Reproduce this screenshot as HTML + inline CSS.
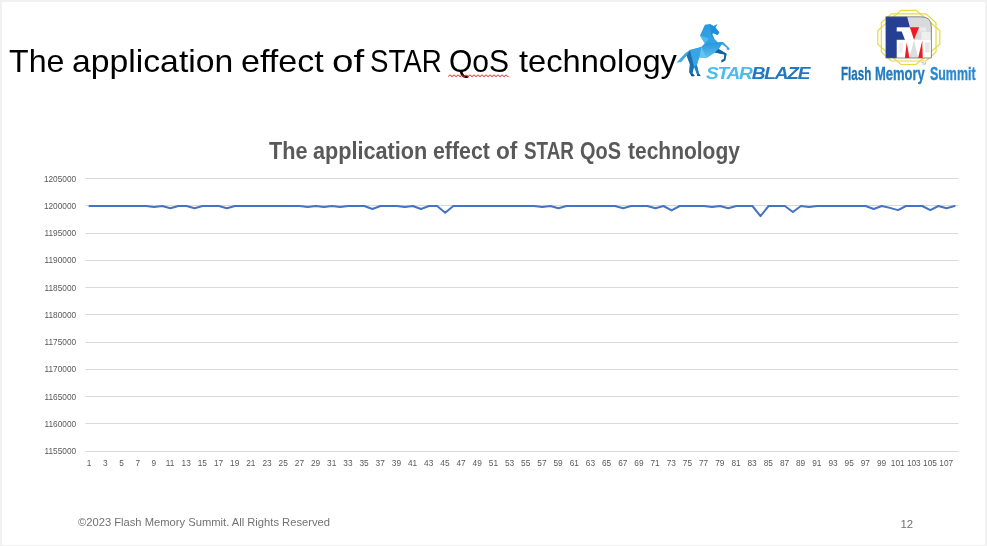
<!DOCTYPE html>
<html>
<head>
<meta charset="utf-8">
<title>The application effect of STAR QoS technology</title>
<style>
html,body{margin:0;padding:0;}
body{width:987px;height:546px;overflow:hidden;background:#f1f1f1;font-family:"Liberation Sans",sans-serif;position:relative;}
#slide{position:absolute;left:2px;top:2px;width:983px;height:543px;background:#fff;}
.abs{position:absolute;white-space:nowrap;}
#title{position:absolute;left:0;top:41px;width:700px;height:40px;font-size:32px;line-height:40px;color:#000;white-space:nowrap;}
#title span{position:absolute;top:0;display:block;transform-origin:0 0;}
#squig{left:448px;top:73px;width:62px;height:6px;}
#ctitle{position:absolute;left:0;top:137.3px;width:800px;height:28px;font-size:23px;line-height:28px;font-weight:bold;color:#595959;white-space:nowrap;}
#ctitle span{position:absolute;top:0;display:block;transform-origin:0 0;}
#footer{left:78px;top:514px;font-size:11.2px;line-height:16px;color:#727272;}
#pageno{left:900.5px;top:516px;font-size:11.4px;line-height:16px;color:#727272;}
#chart{left:0;top:0;width:987px;height:546px;}
#chart text{font-family:"Liberation Sans",sans-serif;font-size:8.3px;fill:#595959;}
#sb{left:706.0px;top:64.9px;font-size:16px;line-height:18px;font-weight:bold;font-style:italic;transform-origin:0 0;transform:scaleX(1.19);letter-spacing:-1.0px;}
#sb .a{color:#4bbcec;}
#sb .b{color:#2277c0;}
#fms{-webkit-text-stroke:0.35px currentColor;position:absolute;left:0;top:63.3px;width:987px;height:22px;font-size:17.7px;line-height:22px;font-weight:bold;color:#2179c0;white-space:nowrap;}
#fms span{position:absolute;top:0;display:block;transform-origin:0 0;}
</style>
</head>
<body>
<div id="slide"></div>
<div id="title"><span style="left:9.1px;transform:scaleX(1.004)">The</span> <span style="left:72.1px;transform:scaleX(1.054)">application</span> <span style="left:240.5px;transform:scaleX(1.064)">effect</span> <span style="left:332.0px;transform:scaleX(1.204)">of</span> <span style="left:369.9px;transform:scaleX(0.865)">STAR</span> <span style="left:449.4px;transform:scaleX(0.938)">QoS</span> <span style="left:518.7px;transform:scaleX(1.020)">technology</span></div>
<svg id="squig" class="abs" viewBox="0 0 62 6"><path d="M0.5,3.5 l1,-1.4 l1,0 l1,1.4 l1,0 l1,-1.4 l1,0 l1,1.4 l1,0 l1,-1.4 l1,0 l1,1.4 l1,0 l1,-1.4 l1,0 l1,1.4 l1,0 l1,-1.4 l1,0 l1,1.4 l1,0 l1,-1.4 l1,0 l1,1.4 l1,0 l1,-1.4 l1,0 l1,1.4 l1,0 l1,-1.4 l1,0 l1,1.4 l1,0 l1,-1.4 l1,0 l1,1.4 l1,0 l1,-1.4 l1,0 l1,1.4 l1,0 l1,-1.4 l1,0 l1,1.4 l1,0 l1,-1.4 l1,0 l1,1.4 l1,0 l1,-1.4 l1,0 l1,1.4 l1,0 l1,-1.4 l1,0 l1,1.4 l1,0 l1,-1.4 l1,0 l1,1.4 l1,0" fill="none" stroke="#ff1a1a" stroke-width="1"/></svg>

<svg id="chart" class="abs" viewBox="0 0 987 546">
<g fill="#d9d9d9">
<rect x="85.4" y="178" width="873.2" height="1"/>
<rect x="85.4" y="205" width="873.2" height="1"/>
<rect x="85.4" y="233" width="873.2" height="1"/>
<rect x="85.4" y="260" width="873.2" height="1"/>
<rect x="85.4" y="287" width="873.2" height="1"/>
<rect x="85.4" y="314" width="873.2" height="1"/>
<rect x="85.4" y="342" width="873.2" height="1"/>
<rect x="85.4" y="369" width="873.2" height="1"/>
<rect x="85.4" y="396" width="873.2" height="1"/>
<rect x="85.4" y="423" width="873.2" height="1"/>
<rect x="85.4" y="451" width="873.2" height="1"/>
</g>
<g>
<text x="76.2" y="181.7" text-anchor="end">1205000</text>
<text x="76.2" y="208.9" text-anchor="end">1200000</text>
<text x="76.2" y="236.2" text-anchor="end">1195000</text>
<text x="76.2" y="263.4" text-anchor="end">1190000</text>
<text x="76.2" y="290.7" text-anchor="end">1185000</text>
<text x="76.2" y="317.9" text-anchor="end">1180000</text>
<text x="76.2" y="345.2" text-anchor="end">1175000</text>
<text x="76.2" y="372.4" text-anchor="end">1170000</text>
<text x="76.2" y="399.7" text-anchor="end">1165000</text>
<text x="76.2" y="426.9" text-anchor="end">1160000</text>
<text x="76.2" y="454.2" text-anchor="end">1155000</text>
</g>
<g>
<text x="89.1" y="466.3" text-anchor="middle">1</text>
<text x="105.3" y="466.3" text-anchor="middle">3</text>
<text x="121.5" y="466.3" text-anchor="middle">5</text>
<text x="137.7" y="466.3" text-anchor="middle">7</text>
<text x="153.8" y="466.3" text-anchor="middle">9</text>
<text x="170.0" y="466.3" text-anchor="middle">11</text>
<text x="186.2" y="466.3" text-anchor="middle">13</text>
<text x="202.3" y="466.3" text-anchor="middle">15</text>
<text x="218.5" y="466.3" text-anchor="middle">17</text>
<text x="234.7" y="466.3" text-anchor="middle">19</text>
<text x="250.8" y="466.3" text-anchor="middle">21</text>
<text x="267.0" y="466.3" text-anchor="middle">23</text>
<text x="283.2" y="466.3" text-anchor="middle">25</text>
<text x="299.4" y="466.3" text-anchor="middle">27</text>
<text x="315.5" y="466.3" text-anchor="middle">29</text>
<text x="331.7" y="466.3" text-anchor="middle">31</text>
<text x="347.9" y="466.3" text-anchor="middle">33</text>
<text x="364.0" y="466.3" text-anchor="middle">35</text>
<text x="380.2" y="466.3" text-anchor="middle">37</text>
<text x="396.4" y="466.3" text-anchor="middle">39</text>
<text x="412.6" y="466.3" text-anchor="middle">41</text>
<text x="428.7" y="466.3" text-anchor="middle">43</text>
<text x="444.9" y="466.3" text-anchor="middle">45</text>
<text x="461.1" y="466.3" text-anchor="middle">47</text>
<text x="477.2" y="466.3" text-anchor="middle">49</text>
<text x="493.4" y="466.3" text-anchor="middle">51</text>
<text x="509.6" y="466.3" text-anchor="middle">53</text>
<text x="525.7" y="466.3" text-anchor="middle">55</text>
<text x="541.9" y="466.3" text-anchor="middle">57</text>
<text x="558.1" y="466.3" text-anchor="middle">59</text>
<text x="574.3" y="466.3" text-anchor="middle">61</text>
<text x="590.4" y="466.3" text-anchor="middle">63</text>
<text x="606.6" y="466.3" text-anchor="middle">65</text>
<text x="622.8" y="466.3" text-anchor="middle">67</text>
<text x="638.9" y="466.3" text-anchor="middle">69</text>
<text x="655.1" y="466.3" text-anchor="middle">71</text>
<text x="671.3" y="466.3" text-anchor="middle">73</text>
<text x="687.4" y="466.3" text-anchor="middle">75</text>
<text x="703.6" y="466.3" text-anchor="middle">77</text>
<text x="719.8" y="466.3" text-anchor="middle">79</text>
<text x="736.0" y="466.3" text-anchor="middle">81</text>
<text x="752.1" y="466.3" text-anchor="middle">83</text>
<text x="768.3" y="466.3" text-anchor="middle">85</text>
<text x="784.5" y="466.3" text-anchor="middle">87</text>
<text x="800.6" y="466.3" text-anchor="middle">89</text>
<text x="816.8" y="466.3" text-anchor="middle">91</text>
<text x="833.0" y="466.3" text-anchor="middle">93</text>
<text x="849.2" y="466.3" text-anchor="middle">95</text>
<text x="865.3" y="466.3" text-anchor="middle">97</text>
<text x="881.5" y="466.3" text-anchor="middle">99</text>
<text x="897.7" y="466.3" text-anchor="middle">101</text>
<text x="913.8" y="466.3" text-anchor="middle">103</text>
<text x="930.0" y="466.3" text-anchor="middle">105</text>
<text x="946.2" y="466.3" text-anchor="middle">107</text>
</g>
<polyline points="89.4,206.0 97.5,206.0 105.6,206.0 113.7,206.0 121.8,206.0 129.9,206.0 138.0,206.0 146.0,206.0 154.1,207.1 162.2,206.0 170.3,208.2 178.4,206.0 186.5,206.0 194.6,208.2 202.6,206.0 210.7,206.0 218.8,206.0 226.9,208.2 235.0,206.0 243.1,206.0 251.1,206.0 259.2,206.0 267.3,206.0 275.4,206.0 283.5,206.0 291.6,206.0 299.7,206.0 307.7,207.1 315.8,206.0 323.9,207.1 332.0,206.0 340.1,207.1 348.2,206.0 356.3,206.0 364.3,206.0 372.4,209.0 380.5,206.0 388.6,206.0 396.7,206.0 404.8,207.1 412.9,206.0 420.9,209.0 429.0,206.0 437.1,206.0 445.2,212.8 453.3,206.0 461.4,206.0 469.4,206.0 477.5,206.0 485.6,206.0 493.7,206.0 501.8,206.0 509.9,206.0 518.0,206.0 526.0,206.0 534.1,206.0 542.2,207.1 550.3,206.0 558.4,208.2 566.5,206.0 574.6,206.0 582.6,206.0 590.7,206.0 598.8,206.0 606.9,206.0 615.0,206.0 623.1,208.2 631.1,206.0 639.2,206.0 647.3,206.0 655.4,208.2 663.5,206.0 671.6,210.4 679.7,206.0 687.7,206.0 695.8,206.0 703.9,206.0 712.0,207.1 720.1,206.0 728.2,208.2 736.3,206.0 744.3,206.0 752.4,206.0 760.5,216.1 768.6,206.0 776.7,206.0 784.8,206.0 792.9,212.0 800.9,206.0 809.0,207.1 817.1,206.0 825.2,206.0 833.3,206.0 841.4,206.0 849.5,206.0 857.5,206.0 865.6,206.0 873.7,209.0 881.8,206.0 889.9,207.9 898.0,210.1 906.0,206.0 914.1,206.0 922.2,206.0 930.3,210.1 938.4,206.0 946.5,208.2 954.6,206.0" fill="none" stroke="#4472c4" stroke-width="2" stroke-linejoin="round" stroke-linecap="round"/>
</svg>
<div id="ctitle"><span style="left:269.2px;transform:scaleX(0.941)">The</span> <span style="left:313.0px;transform:scaleX(0.941)">application</span> <span style="left:432.6px;transform:scaleX(0.928)">effect</span> <span style="left:495.8px;transform:scaleX(0.983)">of</span> <span style="left:524.2px;transform:scaleX(0.818)">STAR</span> <span style="left:580.2px;transform:scaleX(0.866)">QoS</span> <span style="left:627.7px;transform:scaleX(0.912)">technology</span></div>

<!-- LOGOS -->
<svg id="logos" class="abs" style="left:0;top:0;width:987px;height:100px" viewBox="0 0 987 100">
<defs>
<linearGradient id="hg" x1="0" y1="0" x2="0" y2="1"><stop offset="0" stop-color="#2a9ade"/><stop offset="1" stop-color="#48b3ea"/></linearGradient>
<linearGradient id="hb" x1="0" y1="0" x2="0" y2="1"><stop offset="0" stop-color="#2496dc"/><stop offset="1" stop-color="#5cc0f0"/></linearGradient>
</defs>
<!-- unicorn -->
<path fill="url(#hg)" d="M704.9,24.7 L709.8,24 L713.4,26 L717.5,23.9 L715.6,27.7 L719.3,32.4 L717.5,34.9 L712.9,32.9 L712.2,34.5 L714.5,39 L718.1,42.6 L723,42 L729.7,48.6 L728.8,50.2 L726.3,49.3 L726.9,47.9 L721.9,44.2 L718.6,49 L726.6,53.7 L725.2,60.5 L721.6,62.5 L721.4,60 L723.8,59.2 L724.4,54.6 L714.8,52.6 L706.8,57.8 L699.1,57.4 L696.9,64.9 L699.1,74 L700.6,75.9 L697.6,75.9 L694,66.4 L692.5,73.3 L694.7,75.9 L691.8,76.3 L689.2,72.2 L689.9,64.2 L686.7,55.8 L681.2,62 L676.4,62.7 L685.2,53.2 L689.9,49.9 L701.3,47 L704.9,43.6 L700,35.4 Z"/>
<path fill="url(#hb)" d="M704.9,43.6 L718.1,42.6 L723,42 L718.6,49 L714.8,52.6 L706.8,57.8 L701.3,47 Z"/>
<path fill="#64c4f2" d="M701.3,47 L706.8,57.8 L699.1,57.4 Z"/>
<path fill="#38a5e4" d="M689.9,49.9 L701.3,47 L699.1,57.4 L696.9,64.9 L694,66.4 Z"/>
<path fill="#1a6fae" d="M689.9,49.9 L694,66.4 L692.5,73.3 L694.7,75.9 L691.8,76.3 L689.2,72.2 L689.9,64.2 L686.7,55.8 Z"/>
<path fill="#217fc4" d="M696.9,64.9 L699.1,74 L700.6,75.9 L697.6,75.9 L694,66.4 Z"/>
<path fill="#0d4f94" d="M691.8,76.3 L694.7,75.9 L693,73.9 L690.6,74.4 Z M697.6,75.9 L700.6,75.9 L699.3,74.3 L697,74.3 Z"/>
<path fill="#125f9e" d="M718.6,49 L726.6,53.7 L725.2,60.5 L721.6,62.5 L721.4,60 L723.8,59.2 L724.4,54.6 L714.8,52.6 Z"/>
<path fill="#1e90d8" d="M709.8,24 L713.4,26 L715.6,27.7 L719.3,32.4 L717.5,34.9 L712.9,32.9 L712.2,34.5 L714.5,39 L718.1,42.6 L711.5,36 Z"/>
<path fill="#4ebaee" d="M700,35.4 L704.9,43.6 L709,38.5 Z"/>
<!-- FMS emblem -->
<g fill="none" stroke="#e6d945" stroke-width="1.2">
<polygon points="901,10.4 916,10.4 939.8,30.6 939.8,44.3 916,64.5 901,64.5 877.8,44.3 877.8,30.6"/>
<polygon points="891.3,13.8 926,13.8 936,22.7 936,52 926,61 891.3,61 881.3,52 881.3,22.7"/>
</g>
<g transform="translate(882,12.25) scale(0.09149)">
<path d="M40,50 L430,50 Q540,50 540,160 L540,500 L40,500 Z" fill="#d8dadb"/>
<rect x="165" y="300" width="370" height="200" fill="#fff"/>
<polygon points="165,165 305,165 350,300 250,300 215,210 165,210" fill="#fff"/>
<rect x="405" y="165" width="80" height="45" fill="#e9eaea"/>
<rect x="430" y="215" width="100" height="85" fill="#eeefef"/>
<polygon points="300,500 350,300 395,500" fill="#dcdedf"/>
<rect x="470" y="330" width="50" height="110" fill="#e6e7e8"/>
<rect x="185" y="330" width="45" height="110" fill="#f0f0f1"/>
<path d="M40,50 L275,50 L305,165 L160,165 L160,210 L215,210 L250,300 L160,300 L160,500 L40,500 Z" fill="#253f92"/>
<polygon points="305,165 405,165 350,300" fill="#ed1c24"/>
<polygon points="250,500 270,330 300,500" fill="#ed1c24"/>
<polygon points="395,500 440,310 445,500" fill="#ed1c24"/>
<path d="M40,50 L430,50 Q540,50 540,160 L540,500 L40,500" fill="none" stroke="#666" stroke-width="8"/>
</g>
<text x="921" y="65" font-family="Liberation Sans, sans-serif" font-size="3.5" fill="#999">TM</text>
</svg>

<div id="sb" class="abs"><span class="a">STAR</span><span class="b">BLAZE</span></div>
<div id="fms"><span style="left:841.2px;transform:scaleX(0.656);color:#1d73b9">Flash</span> <span style="left:875.3px;transform:scaleX(0.735);color:#237dc3">Memory</span> <span style="left:930.1px;transform:scaleX(0.702);color:#2a89cf">Summit</span></div>

<div id="footer" class="abs">©2023 Flash Memory Summit. All Rights Reserved</div>
<div id="pageno" class="abs">12</div>
</body>
</html>
